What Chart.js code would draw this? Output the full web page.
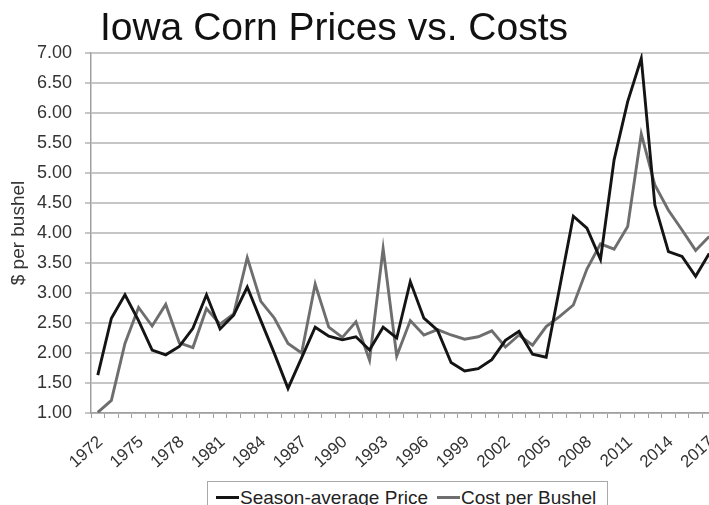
<!DOCTYPE html>
<html>
<head>
<meta charset="utf-8">
<script src="https://cdn.jsdelivr.net/npm/chart.js@4.4.1/dist/chart.umd.min.js"></script>
<style>
  html, body { margin: 0; padding: 0; background: #fff; overflow: hidden; }
  #wrap { position: relative; width: 716px; height: 505px; }
  #title {
    position: absolute; left: 0; top: 7px; width: 668px; text-align: center;
    font: 39px/39px "Liberation Sans", Arial, sans-serif; color: #111;
  }
  #legend {
    position: absolute; left: 207px; top: 481px; width: 401px; height: 40px;
    border: 1px solid #a8a8a8; background: #fff; box-sizing: border-box;
    font: 19px/19px "Liberation Sans", Arial, sans-serif; color: #222;
    display: flex; align-items: flex-start; padding: 6px 0 0 8px;
  }
  .swatch { display: inline-block; width: 23px; height: 3px; margin: 8px 1px 0 0; }
  .item { display: flex; margin-right: 9px; }
</style>
</head>
<body>
<div id="wrap">
  <canvas id="cornChart" width="716" height="505"></canvas>
  <div id="title">Iowa Corn Prices vs. Costs</div>
  <div id="legend">
    <span class="item"><span class="swatch" style="background:#141414"></span>Season-average Price</span>
    <span class="item"><span class="swatch" style="background:#6e6e6e"></span>Cost per Bushel</span>
  </div>
</div>
<script>
// Years 1972 - 2017
const years = [
  1972, 1973, 1974, 1975, 1976, 1977, 1978, 1979, 1980, 1981,
  1982, 1983, 1984, 1985, 1986, 1987, 1988, 1989, 1990, 1991,
  1992, 1993, 1994, 1995, 1996, 1997, 1998, 1999, 2000, 2001,
  2002, 2003, 2004, 2005, 2006, 2007, 2008, 2009, 2010, 2011,
  2012, 2013, 2014, 2015, 2016, 2017,
];

// Season-average price ($ per bushel)
const seasonPrice = [
  1.63, 2.58, 2.97, 2.54, 2.05, 1.97, 2.11, 2.41, 2.97, 2.40,
  2.63, 3.10, 2.54, 1.99, 1.41, 1.92, 2.43, 2.28, 2.22, 2.27,
  2.05, 2.43, 2.25, 3.19, 2.58, 2.38, 1.84, 1.70, 1.74, 1.89,
  2.21, 2.36, 1.98, 1.93, 3.10, 4.28, 4.08, 3.56, 5.22, 6.19,
  6.91, 4.47, 3.69, 3.61, 3.28, 3.66,
];

// Cost per bushel ($ per bushel)
const costPerBushel = [
  1.01, 1.21, 2.16, 2.76, 2.45, 2.81, 2.17, 2.09, 2.74, 2.48,
  2.65, 3.59, 2.86, 2.58, 2.16, 2.00, 3.15, 2.43, 2.26, 2.52,
  1.88, 3.74, 1.95, 2.54, 2.30, 2.39, 2.30, 2.23, 2.27, 2.37,
  2.10, 2.30, 2.13, 2.44, 2.61, 2.80, 3.40, 3.82, 3.73, 4.11,
  5.65, 4.80, 4.38, 4.05, 3.71, 3.94,
];

const yMin = 1.0;
const yMax = 7.0;
const yStep = 0.5;
const labelEvery = 3;

const font = "'Liberation Sans', Arial, sans-serif";

const ctx = document.getElementById("cornChart").getContext("2d");
new Chart(ctx, {
  type: "line",
  data: {
    labels: years.map(String),
    datasets: [
      {
        label: "Season-average Price",
        data: seasonPrice,
        borderColor: "#141414",
        borderWidth: 2.9,
        pointRadius: 0,
        tension: 0,
        fill: false,
      },
      {
        label: "Cost per Bushel",
        data: costPerBushel,
        borderColor: "#6e6e6e",
        borderWidth: 2.9,
        pointRadius: 0,
        tension: 0,
        fill: false,
      },
    ],
  },
  options: {
    responsive: false,
    animation: false,
    layout: { padding: { top: 53, right: 0, bottom: 0, left: 0 } },
    plugins: {
      legend: { display: false },
      title: { display: false },
      tooltip: { enabled: false },
    },
    scales: {
      x: {
        offset: true,
        // fixed height, and no extra side padding for the rotated labels
        afterFit: (scale) => {
          scale.height = 92;
          scale.paddingLeft = 0;
          scale.paddingRight = 0;
        },
        grid: {
          offset: true,
          drawOnChartArea: false,
          drawTicks: true,
          tickLength: 5,
          color: "#a0a0a0",
        },
        border: { color: "#a0a0a0", width: 1.5 },
        ticks: {
          autoSkip: false,
          minRotation: 42,
          maxRotation: 42,
          padding: 14,
          labelOffset: 2.5,
          color: "#333",
          font: { family: font, size: 17 },
          callback: function (value, index) {
            return index % labelEvery === 0 ? years[index] : "";
          },
        },
      },
      y: {
        min: yMin,
        max: yMax,
        afterFit: (scale) => { scale.width = 91; },
        grid: {
          color: "#c6c6c6",
          lineWidth: 2,
          tickLength: 6,
        },
        border: { color: "#a0a0a0", width: 1.5 },
        ticks: {
          stepSize: yStep,
          padding: 13,
          color: "#333",
          font: { family: font, size: 18 },
          callback: (value) => value.toFixed(2),
        },
        title: {
          display: true,
          text: "$ per bushel",
          color: "#333",
          font: { family: font, size: 19 },
          padding: { top: 7, bottom: 0 },
        },
      },
    },
  },
});
</script>
</body>
</html>
